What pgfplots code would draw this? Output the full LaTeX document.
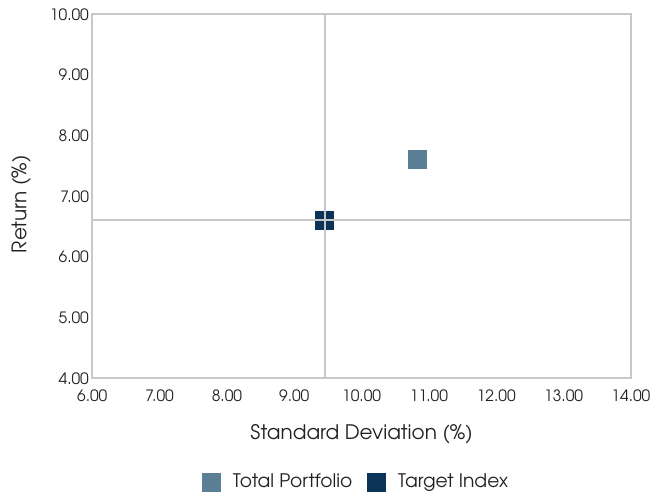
\documentclass[border=0pt]{standalone}
\usepackage{pgfplots}
\pgfplotsset{compat=1.18}
\usepackage{fontspec}
\setmainfont{TeX Gyre Adventor}
\definecolor{totport}{HTML}{5B8096}
\definecolor{tgtidx}{HTML}{0C3458}
\definecolor{gridgray}{HTML}{C8C8C8}
\definecolor{txt}{HTML}{222222}
\begin{document}
\begin{tikzpicture}
  \useasboundingbox (-69.2pt,-86.8pt) rectangle (422.8pt,283.7pt);
  \begin{axis}[
    at={(0,0)}, anchor=south west,
    scale only axis,
    width=404pt, height=273pt,
    xmin=6, xmax=14, ymin=4, ymax=10,
    xtick={6,7,...,14},
    ytick={4,5,...,10},
    major tick length=0pt,
    clip mode=individual,
    axis line style={draw=gridgray, line width=1.2pt},
    /pgf/number format/assume math mode=true,
    /pgf/number format/.cd, fixed, fixed zerofill, precision=2,
    /pgfplots/.cd,
    tick label style={font=\fontsize{11.7}{14}\selectfont, text=txt},
    xticklabel style={yshift=-5pt},
    yticklabel style={xshift=1pt},
    xlabel={Standard Deviation (\%)},
    ylabel={Return (\%)},
    xlabel style={font=\fontsize{15}{18}\selectfont, text=txt, yshift=-10pt},
    ylabel style={font=\fontsize{15}{18}\selectfont, text=txt, yshift=7.5pt, xshift=-6pt},
    legend style={at={(0.49,-0.285)}, anchor=center, draw=none,
      legend columns=-1, font=\fontsize{14}{17}\selectfont, text=txt,
      /tikz/every odd column/.append style={column sep=7.5pt},
      /tikz/every even column/.append style={column sep=9pt}},
    legend image code/.code={\fill[#1] (0pt,-6.75pt) rectangle (13.5pt,6.75pt);},
  ]
    \addplot[only marks, mark=square*, mark size=6.75pt, color=totport,
      mark options={draw=none, fill=totport}] coordinates {(10.82,7.61)};
    \addlegendentry{Total Portfolio}
    \addplot[only marks, mark=square*, mark size=6.75pt, color=tgtidx,
      mark options={draw=none, fill=tgtidx}] coordinates {(9.45,6.61)};
    \addlegendentry{Target Index}
    \addplot[forget plot, draw=gridgray, line width=1.5pt] coordinates {(9.45,4) (9.45,10)};
    \addplot[forget plot, draw=gridgray, line width=1.5pt] coordinates {(6,6.61) (14,6.61)};
  \end{axis}
\end{tikzpicture}
\end{document}
